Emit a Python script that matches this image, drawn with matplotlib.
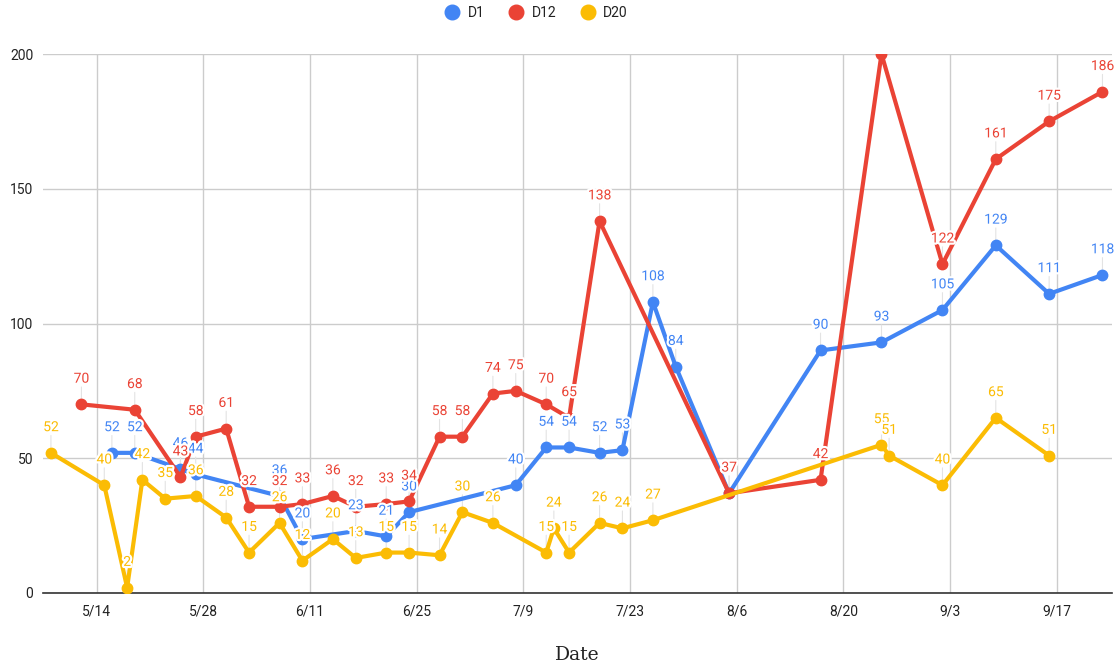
import datetime as dt

import matplotlib
matplotlib.use("Agg")
import matplotlib.pyplot as plt
import matplotlib.patheffects as pe
from matplotlib.lines import Line2D
from matplotlib.ticker import FuncFormatter

YEAR = 2020

# ---- data -------------------------------------------------------------
d1_dates = ["5/16", "5/19", "5/25", "5/27", "6/7", "6/10", "6/17", "6/21", "6/24",
            "7/8", "7/12", "7/15", "7/19", "7/22", "7/26", "7/29", "8/5", "8/17",
            "8/25", "9/2", "9/9", "9/16", "9/23"]
d1_values = [52, 52, 46, 44, 36, 20, 23, 21, 30, 40, 54, 54, 52, 53, 108, 84, 37,
             90, 93, 105, 129, 111, 118]

d12_dates = ["5/12", "5/19", "5/25", "5/27", "5/31", "6/3", "6/7", "6/10", "6/14",
             "6/17", "6/21", "6/24", "6/28", "7/1", "7/5", "7/8", "7/12", "7/15",
             "7/19", "8/5", "8/17", "8/25", "9/2", "9/9", "9/16", "9/23"]
d12_values = [70, 68, 43, 58, 61, 32, 32, 33, 36, 32, 33, 34, 58, 58, 74, 75, 70,
              65, 138, 37, 42, 200, 122, 161, 175, 186]

d20_dates = ["5/8", "5/15", "5/18", "5/20", "5/23", "5/27", "5/31", "6/3", "6/7",
             "6/10", "6/14", "6/17", "6/21", "6/24", "6/28", "7/1", "7/5", "7/12",
             "7/13", "7/15", "7/19", "7/22", "7/26", "8/25", "8/26", "9/2", "9/9",
             "9/16"]
d20_values = [52, 40, 2, 42, 35, 36, 28, 15, 26, 12, 20, 13, 15, 15, 14, 30, 26,
              15, 24, 15, 26, 24, 27, 55, 51, 40, 65, 51]

series_names = ["D1", "D12", "D20"]
series_colors = ["#4285F4", "#EA4335", "#FBBC04"]

tick_labels = ["5/14", "5/28", "6/11", "6/25", "7/9", "7/23", "8/6", "8/20", "9/3", "9/17"]
y_ticks = [0, 50, 100, 150, 200]


def to_date(s):
    m, d = s.split("/")
    return dt.datetime(YEAR, int(m), int(d))


plt.rcParams["font.family"] = ["Roboto", "DejaVu Sans"]

fig = plt.figure(figsize=(11.19, 6.63), dpi=100)
ax = fig.add_axes([43 / 1119, 1 - 593 / 663, (1112 - 43) / 1119, (593 - 54) / 663])

series = [(d1_dates, d1_values), (d12_dates, d12_values), (d20_dates, d20_values)]
y_min, y_max = y_ticks[0], y_ticks[-1]

halo = [pe.withStroke(linewidth=3.2, foreground="white")]
label_offset = 18.5  # points above each marker

for i, ((dates, vals), name, color) in enumerate(zip(series, series_names, series_colors)):
    xs = [to_date(s) for s in dates]
    ax.plot(xs, vals, color=color, lw=3.0, marker="o", ms=7.5,
            solid_joinstyle="round", zorder=3 + i, label=name)
    for x, v in zip(xs, vals):
        if v >= y_max:
            continue
        # faint stem between marker and its value
        ax.annotate("", xy=(x, v), xytext=(0, label_offset - 6),
                    textcoords="offset points",
                    arrowprops=dict(arrowstyle="-", color="#e3e3e3", lw=0.8,
                                    shrinkA=0, shrinkB=4),
                    zorder=2)
        ax.annotate(str(v), xy=(x, v), xytext=(0, label_offset),
                    textcoords="offset points", ha="center", va="center",
                    fontsize=10, color=color, path_effects=halo,
                    zorder=10 + i)

# ---- axes -------------------------------------------------------------
ax.set_xlim(dt.datetime(YEAR, 5, 7) - dt.timedelta(hours=1),
            dt.datetime(YEAR, 9, 24, 6))
ax.set_ylim(y_min, y_max)
ax.set_yticks(y_ticks)
ax.set_xticks([to_date(s) for s in tick_labels])
ax.xaxis.set_major_formatter(FuncFormatter(
    lambda v, pos: "{}/{}".format(matplotlib.dates.num2date(v).month,
                                  matplotlib.dates.num2date(v).day)))

ax.grid(True, color="#cccccc", lw=1.0)
ax.set_axisbelow(True)
for side in ["left", "right", "top"]:
    ax.spines[side].set_visible(False)
ax.spines["bottom"].set_color("#333333")
ax.spines["bottom"].set_linewidth(1.2)
ax.spines["bottom"].set_zorder(2.5)
ax.tick_params(axis="both", length=0, labelsize=10, labelcolor="#222222")
ax.tick_params(axis="y", pad=7)
ax.tick_params(axis="x", pad=8)

ax.set_xlabel("Date", family=["DejaVu Serif"], fontsize=13.5, color="#222222")
ax.xaxis.set_label_coords(0.4995, (593 - 655) / (593 - 54))
ax.xaxis.label.set_va("center")

handles = [Line2D([], [], ls="none", marker="o", ms=10.5, color=c) for c in series_colors]
fig.legend(handles, series_names, loc="center", bbox_to_anchor=(0.4795, 1 - 13 / 663),
           ncol=3, frameon=False, fontsize=10, labelcolor="#222222",
           handlelength=1.0, handletextpad=0.6, columnspacing=1.8)

fig.savefig("out.png", dpi=100)
